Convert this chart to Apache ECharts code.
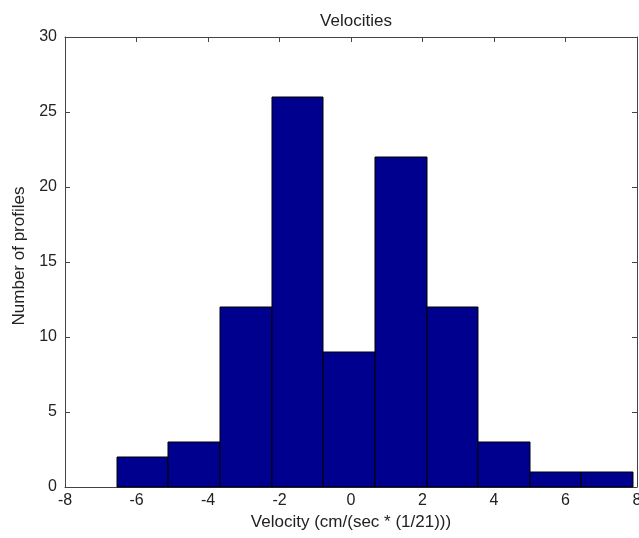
<!DOCTYPE html>
<html>
<head>
<meta charset="utf-8">
<script src="https://cdn.jsdelivr.net/npm/echarts@6/dist/echarts.min.js"></script>
<style>
html,body{margin:0;padding:0;background:#fff;overflow:hidden;}
#chart{width:639px;height:538px;}
</style>
</head>
<body>
<div id="chart"></div>
<script>
// Histogram bin edges (velocity) and counts
const binEdges = [-6.545, -5.119, -3.664, -2.21, -0.783, 0.671, 2.126, 3.552, 5.007, 6.434, 7.888];
const counts = [2, 3, 12, 26, 9, 22, 12, 3, 1, 1];
const titleText = 'Velocities';
const xName = 'Velocity (cm/(sec * (1/21)))';
const yName = 'Number of profiles';

const data = counts.map((c, i) => [binEdges[i], binEdges[i + 1], c]);

const FONT = "'Liberation Sans', Arial, sans-serif";
const TXT = '#222';
const AX = '#444';

const chart = echarts.init(document.getElementById('chart'), null, {renderer: 'canvas', width: 639, height: 538});

function axisCommon() {
  return {
    axisLine: {show: true, onZero: false, lineStyle: {color: AX, width: 1}},
    axisTick: {show: true, inside: true, length: 5, lineStyle: {color: AX}},
    splitLine: {show: false}
  };
}

chart.setOption({
  animation: false,
  backgroundColor: '#fff',
  title: {
    text: titleText,
    left: 351, top: 8, textAlign: 'center',
    textStyle: {fontFamily: FONT, fontSize: 17, fontWeight: 'normal', color: TXT}
  },
  grid: {left: 65, right: 2, top: 37, bottom: 51, containLabel: false, outerBoundsMode: 'none'},
  xAxis: [
    Object.assign({
      type: 'value', position: 'bottom', min: -8, max: 8, interval: 2,
      name: xName, nameLocation: 'middle', nameGap: 27,
      nameTextStyle: {fontFamily: FONT, fontSize: 17, color: TXT},
      axisLabel: {fontFamily: FONT, fontSize: 16, color: TXT, margin: 6}
    }, axisCommon()),
    Object.assign({
      type: 'value', position: 'top', min: -8, max: 8, interval: 2,
      axisLabel: {show: false}
    }, axisCommon())
  ],
  yAxis: [
    Object.assign({
      type: 'value', position: 'left', min: 0, max: 30, interval: 5,
      name: yName, nameLocation: 'middle', nameGap: 34,
      nameTextStyle: {fontFamily: FONT, fontSize: 17, color: TXT, padding: [0, 0, 0, 12]},
      axisLabel: {fontFamily: FONT, fontSize: 16, color: TXT, margin: 8}
    }, axisCommon()),
    Object.assign({
      type: 'value', position: 'right', min: 0, max: 30, interval: 5,
      axisLabel: {show: false}
    }, axisCommon())
  ],
  series: [{
    type: 'custom',
    xAxisIndex: 0, yAxisIndex: 0,
    data: data,
    encode: {x: [0, 1], y: 2},
    renderItem: function (params, api) {
      const p0 = api.coord([api.value(0), 0]);
      const p1 = api.coord([api.value(1), api.value(2)]);
      return {
        type: 'rect',
        shape: {x: p0[0], y: p1[1], width: p1[0] - p0[0], height: p0[1] - p1[1]},
        style: {fill: '#00008f', stroke: '#000', lineWidth: 1}
      };
    }
  }]
});
</script>
</body>
</html>
